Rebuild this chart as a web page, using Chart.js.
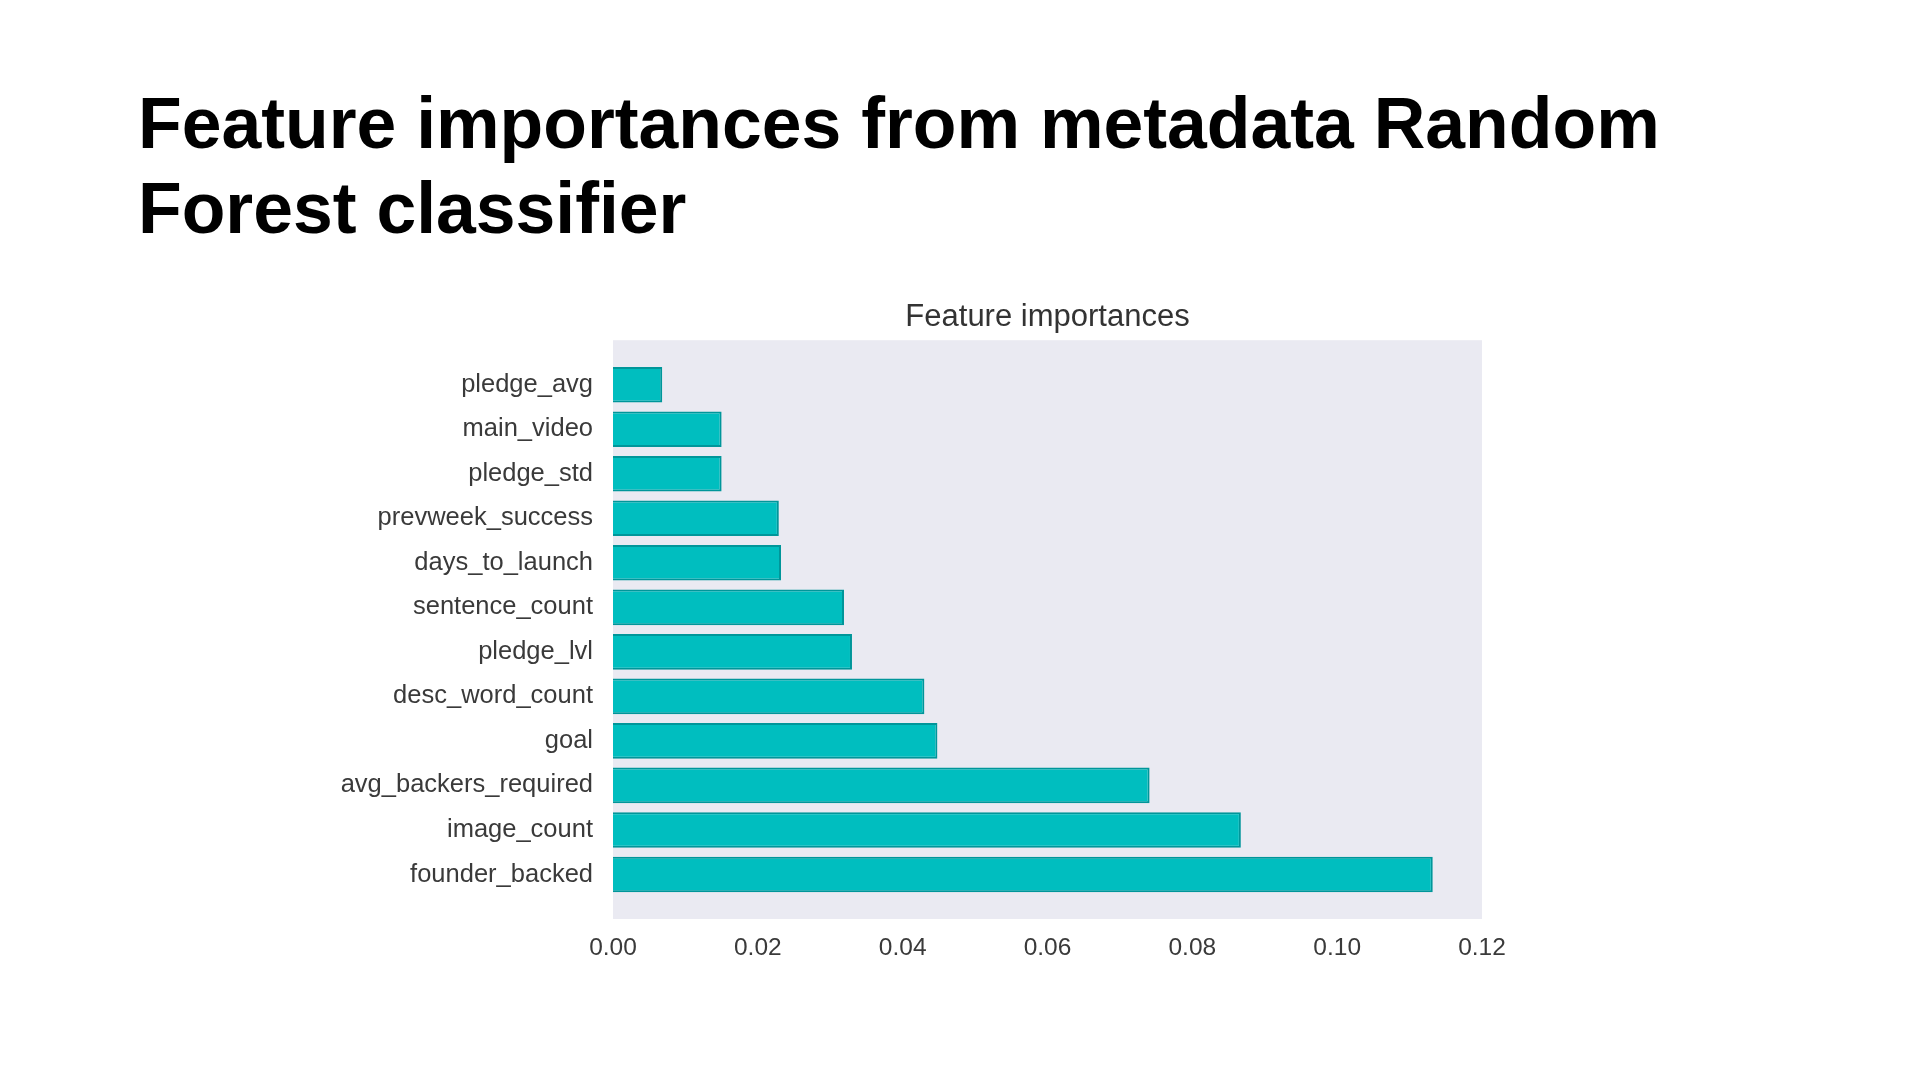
<!DOCTYPE html>
<html>
<head>
<meta charset="utf-8">
<script src="https://cdn.jsdelivr.net/npm/chart.js@4/dist/chart.umd.min.js"></script>
<style>
  html, body { margin: 0; padding: 0; background: #ffffff; width: 1920px; height: 1080px; overflow: hidden; }
  #title {
    position: absolute; left: 138px; top: 81px; width: 1700px;
    font-family: "Liberation Sans", Arial, Helvetica, sans-serif;
    font-weight: bold; font-size: 71.5px; line-height: 85px; color: #000;
    margin: 0;
  }
  #wrap { position: absolute; left: 0; top: 0; width: 1920px; height: 1080px; }
</style>
</head>
<body>
<h1 id="title">Feature importances from metadata Random<br>Forest classifier</h1>
<div id="wrap"><canvas id="c" width="1920" height="1080"></canvas></div>
<script>
// Data (top to bottom as displayed)
const features = [
  "pledge_avg", "main_video", "pledge_std", "prevweek_success", "days_to_launch",
  "sentence_count", "pledge_lvl", "desc_word_count", "goal",
  "avg_backers_required", "image_count", "founder_backed"
];
const importances = [
  0.0068, 0.0150, 0.0150, 0.0229, 0.0232,
  0.0319, 0.0330, 0.0430, 0.0448,
  0.0741, 0.0867, 0.1132
];
const xTicks = [0.00, 0.02, 0.04, 0.06, 0.08, 0.10, 0.12];
const chartTitle = "Feature importances";

const points = importances.map((v, i) => ({ x: v, y: i }));

const bgPlugin = {
  id: 'plotBg',
  beforeDraw(chart) {
    const { ctx, chartArea: a } = chart;
    ctx.save();
    ctx.fillStyle = '#EAEAF2';
    ctx.fillRect(a.left, a.top, a.right - a.left, a.bottom - a.top);
    ctx.restore();
  }
};

const fam = "'Liberation Sans', Arial, Helvetica, sans-serif";

new Chart(document.getElementById('c'), {
  type: 'bar',
  data: {
    datasets: [{
      data: points,
      backgroundColor: '#00BEBF',
      borderColor: '#00969A',
      borderWidth: 2,
      categoryPercentage: 1.0,
      barPercentage: 0.8
    }]
  },
  options: {
    indexAxis: 'y',
    responsive: false,
    animation: false,
    devicePixelRatio: 1,
    layout: { padding: { left: 0, top: 0, right: 438, bottom: 101 } },
    plugins: {
      legend: { display: false },
      tooltip: { enabled: false },
      title: {
        display: true,
        text: chartTitle,
        fullSize: false,
        color: '#333333',
        font: { family: fam, size: 31, weight: 'normal' },
        padding: { top: 299, bottom: 4 }
      }
    },
    scales: {
      x: {
        type: 'linear',
        position: 'bottom',
        min: xTicks[0],
        max: xTicks[xTicks.length - 1],
        afterBuildTicks(scale) { scale.ticks = xTicks.map(v => ({ value: v })); },
        afterFit(scale) { scale.height = 60; },
        grid: { display: false, drawTicks: false },
        border: { display: false },
        ticks: {
          padding: 15,
          color: '#3a3a3a',
          font: { family: fam, size: 24.5 },
          maxRotation: 0,
          callback: (v) => Number(v).toFixed(2)
        }
      },
      y: {
        type: 'linear',
        position: 'left',
        reverse: true,
        offset: false,
        min: -1,
        max: features.length,
        afterBuildTicks(scale) { scale.ticks = features.map((f, i) => ({ value: i })); },
        afterFit(scale) { scale.width = 613; },
        grid: { display: false, drawTicks: false },
        border: { display: false },
        ticks: {
          padding: 20,
          color: '#3a3a3a',
          font: { family: fam, size: 25.5 },
          autoSkip: false,
          callback: (v) => features[v] !== undefined ? features[v] : ''
        }
      }
    }
  },
  plugins: [bgPlugin]
});
</script>
</body>
</html>
